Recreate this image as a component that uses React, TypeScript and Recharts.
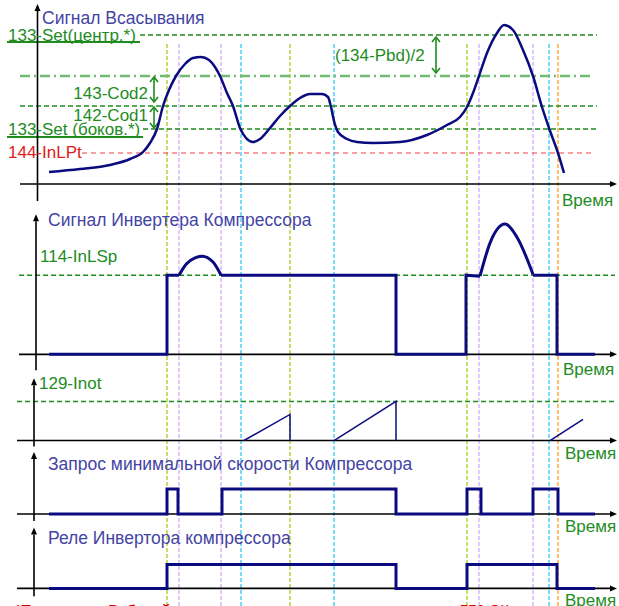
import React from "react";
import { LineChart, Line, XAxis, YAxis, ReferenceLine, ReferenceDot } from "recharts";

type Pt = [number, number];

const W = 619;
const FONT = "'Liberation Sans', Arial, sans-serif";
const NAVY = "#0b0b80";
const GREEN = "#1e8c1e";
const BLUE = "#4444a4";
const RED = "#e02020";

// time axis (arbitrary units), shared by all panels
const timeDomain: [number, number] = [-3.7, 58.2];

// event markers
const markerTimes = [13.0, 14.2, 18.4, 20.4, 25.3, 29.7, 43.0, 44.2, 49.6, 51.2, 52.1];
const markerColors = ["#a8cc20", "#d4aaff", "#d4aaff", "#33c8f4", "#a8cc20", "#33c8f4", "#a8cc20", "#d4aaff", "#d4aaff", "#33c8f4", "#ffa020"];

// suction signal levels
const setCenter = 74.5;
const cod2Level = 54;
const cod1Level = 39;
const setSide = 27.5;
const inLPt = 15.5;

// suction signal
const suction: Pt[] = [
  [1.2, 6], [4.3, 7.5], [7.3, 9.5], [9.3, 12.5], [10.6, 16], [11.3, 20.5], [12.0, 27.5],
  [12.6, 39], [13.2, 47], [13.9, 54], [14.8, 60], [15.6, 63], [16.4, 63.5], [17.2, 62],
  [17.8, 58.5], [18.3, 54], [19.0, 45.5], [19.6, 39], [20.3, 28], [20.9, 23], [21.6, 21],
  [22.3, 22.5], [23.3, 28], [24.3, 34], [25.3, 39], [26.3, 43], [27.3, 45], [28.5, 45],
  [29.1, 43.5], [29.4, 38.5], [29.7, 31.5], [30.1, 26], [31.0, 22.5], [32.0, 21], [33.6, 20.5],
  [36.3, 21], [39.0, 24.5], [41.0, 29.5], [42.3, 33.5], [43.0, 38.5], [43.6, 45.5], [44.2, 54],
  [45.0, 65.5], [46.0, 75.5], [46.7, 79.5], [47.6, 77], [48.6, 67], [49.6, 54], [50.5, 38.5],
  [51.2, 28], [52.1, 15.5], [52.7, 5.5],
];

// inverter signal (114-InLSp = 100)
const inLSp = 100;
const invStepsA: Pt[] = [[1.2, 0], [13.0, 0], [13.0, 100], [14.2, 100]];
const invHumpA: Pt[] = [[14.2, 100], [15.0, 115], [16.5, 124], [17.6, 116.5], [18.4, 100]];
const invStepsB: Pt[] = [[18.4, 100], [35.9, 100], [35.9, 0], [42.9, 0], [42.9, 100], [44.3, 98.7]];
const invHumpB: Pt[] = [[44.3, 98.7], [45.3, 140.5], [46.8, 164.5], [48.0, 148], [49.6, 101]];
const invStepsC: Pt[] = [[49.6, 100], [52.0, 100], [52.0, 0], [55.8, 0]];

// 129-Inot integrator (limit = 100)
const inotLimit = 100;
const rampA: Pt[] = [[20.7, 0], [25.3, 66.7], [25.3, 0]];
const rampB: Pt[] = [[29.7, 0], [35.9, 100], [35.9, 0]];
const rampC: Pt[] = [[51.3, 0], [54.6, 53.8]];

// min speed request (0/1)
const minSpeed: Pt[] = [
  [1.2, 0], [13.0, 0], [13.0, 1], [14.1, 1], [14.1, 0], [18.5, 0], [18.5, 1], [35.9, 1],
  [35.9, 0], [43.0, 0], [43.0, 1], [44.4, 1], [44.4, 0], [49.6, 0], [49.6, 1], [52.1, 1],
  [52.1, 0], [55.8, 0],
];

// inverter relay (0/1)
const relay: Pt[] = [[1.2, 0], [13.0, 0], [13.0, 1], [35.9, 1], [35.9, 0], [43.0, 0], [43.0, 1], [52.0, 1], [52.0, 0], [55.8, 0]];

const toData = (pts: Pt[]) => pts.map(([t, v]) => ({ t, v }));

const ArrowShape = (p: any) => {
  const { x1, y1, x2, y2 } = p;
  const a = Math.atan2(y2 - y1, x2 - x1);
  const L = 7;
  const H = 3;
  const bx = x2 - L * Math.cos(a);
  const by = y2 - L * Math.sin(a);
  const nx = -Math.sin(a) * H;
  const ny = Math.cos(a) * H;
  return (
    <g>
      <line x1={x1} y1={y1} x2={bx} y2={by} stroke="#000" strokeWidth={1.6} />
      <polygon points={`${x2},${y2} ${bx + nx},${by + ny} ${bx - nx},${by - ny}`} fill="#000" />
    </g>
  );
};

const DoubleArrowShape = (p: any) => {
  const { x1, y1, x2, y2 } = p;
  const top = Math.min(y1, y2);
  const bot = Math.max(y1, y2);
  return (
    <g stroke={GREEN} strokeWidth={1.6} fill="none">
      <line x1={x1} y1={top} x2={x2} y2={bot} />
      <polyline points={`${x1 - 4},${top + 5} ${x1},${top} ${x1 + 4},${top + 5}`} />
      <polyline points={`${x1 - 4},${bot - 5} ${x1},${bot} ${x1 + 4},${bot - 5}`} />
    </g>
  );
};

function axis(key: string, from: Pt, to: Pt) {
  return (
    <ReferenceLine
      key={key}
      segment={[{ x: from[0], y: from[1] }, { x: to[0], y: to[1] }]}
      ifOverflow="visible"
      shape={ArrowShape}
    />
  );
}

function hline(key: string, v: number, t0: number, t1: number, stroke: string, dash: string, width = 1.5) {
  return (
    <ReferenceLine
      key={key}
      segment={[{ x: t0, y: v }, { x: t1, y: v }]}
      ifOverflow="visible"
      stroke={stroke}
      strokeDasharray={dash}
      strokeWidth={width}
    />
  );
}

function txt(key: string, t: number, v: number, text: string, fill: string, anchor = "start", size = 17, weight = "normal") {
  return (
    <ReferenceDot
      key={key}
      x={t}
      y={v}
      r={1}
      ifOverflow="visible"
      shape={(p: any) => (
        <text x={p.cx} y={p.cy} fill={fill} fontSize={size} fontWeight={weight} fontFamily={FONT} textAnchor={anchor}>
          {text}
        </text>
      )}
    />
  );
}

function series(key: string, pts: Pt[], width: number, type: "linear" | "monotone" = "linear") {
  return (
    <Line
      key={key}
      data={toData(pts)}
      dataKey="v"
      type={type}
      stroke={NAVY}
      strokeWidth={width}
      dot={false}
      activeDot={false}
      isAnimationActive={false}
      strokeLinejoin="miter"
    />
  );
}

function Panel({ top, height, domain, children }: { top: number; height: number; domain: [number, number]; children: React.ReactNode }) {
  return (
    <div style={{ position: "absolute", left: 0, top, width: W, height }}>
      <LineChart width={W} height={height} margin={{ top: 0, right: 0, bottom: 0, left: 0 }}>
        <XAxis dataKey="t" type="number" domain={timeDomain} hide allowDataOverflow />
        <YAxis type="number" domain={domain} hide allowDataOverflow />
        {children}
      </LineChart>
    </div>
  );
}

export default function App() {
  return (
    <div style={{ position: "absolute", left: 0, top: 0, width: W, height: 606, overflow: "hidden", background: "#fff", fontFamily: FONT }}>
      <div style={{ position: "absolute", left: 0, top: 44, width: W, height: 562 }}>
        <LineChart width={W} height={562} margin={{ top: 0, right: 0, bottom: 0, left: 0 }} data={markerTimes.map((t) => ({ t, v: 0 }))}>
          <XAxis dataKey="t" type="number" domain={timeDomain} hide allowDataOverflow />
          <YAxis type="number" domain={[0, 1]} hide allowDataOverflow />
          {markerTimes.map((t, i) => (
            <ReferenceLine key={`m${i}`} x={t} stroke={markerColors[i]} strokeDasharray="4 2" strokeWidth={1.3} ifOverflow="visible" />
          ))}
        </LineChart>
      </div>

      <Panel top={0} height={215} domain={[-15.5, 92]}>
        {hline("set", setCenter, 10.3, 56.0, GREEN, "5 3")}
        {hline("cod2", cod2Level, -1.7, 55.6, "#72bc72", "10 4 2 4", 2.4)}
        {hline("cod1", cod1Level, -1.7, 56.0, GREEN, "5 3")}
        {hline("side", setSide, 10.6, 56.0, GREEN, "5 3")}
        {hline("lpt", inLPt, 4.5, 55.6, "#f04040", "5 4", 1.2)}
        {hline("u1", 71, -3.0, 10.3, GREEN, "0", 2)}
        {hline("u2", 23.5, -3.0, 10.6, GREEN, "0", 2)}
        {axis("x1", [-1.7, 0], [58.0, 0])}
        {axis("y1", [0.05, -8.5], [0.05, 90])}
        <ReferenceLine segment={[{ x: 11.7, y: 53.5 }, { x: 11.7, y: 41 }]} ifOverflow="visible" shape={DoubleArrowShape} />
        <ReferenceLine segment={[{ x: 11.7, y: 38.5 }, { x: 11.7, y: 28 }]} ifOverflow="visible" shape={DoubleArrowShape} />
        <ReferenceLine segment={[{ x: 39.9, y: 73.5 }, { x: 39.9, y: 55.5 }]} ifOverflow="visible" shape={DoubleArrowShape} />
        {txt("t1", 0.5, 80, "Сигнал Всасывания", BLUE, "start", 17.5)}
        {txt("l1", -2.9, 71.5, "133-Set(центр.*)", GREEN)}
        {txt("l2", 11.1, 42.5, "143-Cod2", GREEN, "end")}
        {txt("l3", 11.1, 31.5, "142-Cod1", GREEN, "end")}
        {txt("l4", -2.9, 24.5, "133-Set (боков.*)", GREEN)}
        {txt("l5", -2.9, 13, "144-InLPt", RED)}
        {txt("l6", 29.8, 61.5, "(134-Pbd)/2", GREEN)}
        {txt("v1", 52.5, -11, "Время", GREEN)}
        {series("suction", suction, 2.5, "monotone")}
      </Panel>

      <Panel top={196} height={190} domain={[-40, 200]}>
        {hline("lsp", inLSp, -1.8, 57.8, GREEN, "5 3")}
        {axis("x2", [-1.8, 0], [58.0, 0])}
        {axis("y2", [-0.1, -20], [-0.1, 177])}
        {txt("t2", 1.1, 162, "Сигнал Инвертера Компрессора", BLUE, "start", 17.5)}
        {txt("l7", 0.3, 116.5, "114-InLSp", GREEN)}
        {txt("v2", 52.6, -26.6, "Время", GREEN)}
        {series("invA", invStepsA, 3)}
        {series("invHA", invHumpA, 3, "monotone")}
        {series("invB", invStepsB, 3)}
        {series("invHB", invHumpB, 3, "monotone")}
        {series("invC", invStepsC, 3)}
      </Panel>

      <Panel top={374} height={90} domain={[-60, 170]}>
        {hline("inot", inotLimit, -2.0, 57.8, GREEN, "5 3")}
        {axis("x3", [-2.0, 0], [58.0, 0])}
        {axis("y3", [-0.3, -15.4], [-0.3, 159])}
        {txt("l8", 0.2, 130.8, "129-Inot", GREEN)}
        {txt("v3", 52.8, -46, "Время", GREEN)}
        {series("rA", rampA, 1.5)}
        {series("rB", rampB, 1.5)}
        {series("rC", rampC, 1.5)}
      </Panel>

      <Panel top={449} height={90} domain={[-1.0, 2.6]}>
        {axis("x4", [-2.0, 0], [58.0, 0])}
        {axis("y4", [-0.3, -0.28], [-0.3, 2.48])}
        {txt("t4", 1.1, 1.76, "Запрос минимальной скорости Компрессора", BLUE, "start", 17.5)}
        {txt("v4", 52.8, -0.72, "Время", GREEN)}
        {series("min", minSpeed, 3)}
      </Panel>

      <Panel top={525.6} height={96} domain={[-1.4, 2.6]}>
        {axis("x5", [-2.0, 0], [58.0, 0])}
        {axis("y5", [-0.3, -0.33], [-0.3, 2.54])}
        {txt("t5", 1.1, 1.83, "Реле Инвертора компрессора", BLUE, "start", 17.5)}
        {txt("v5", 52.8, -0.75, "Время", GREEN)}
        {txt("note", -2.2, -1.1, "*Положение Рабочей точки зависит от значения параметра 551-Stty:", "#e00000", "start", 15, "bold")}
        {series("relay", relay, 3)}
      </Panel>
    </div>
  );
}
